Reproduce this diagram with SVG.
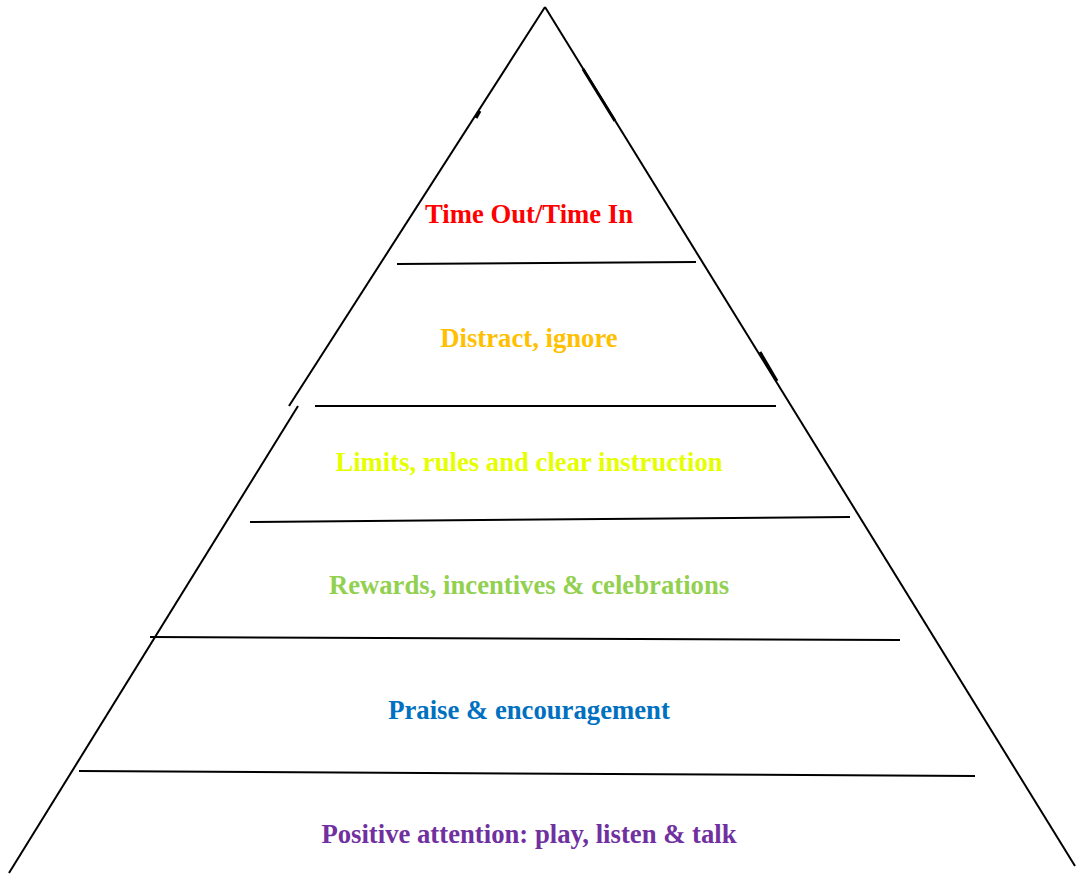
<svg xmlns="http://www.w3.org/2000/svg" width="1076" height="874" viewBox="0 0 1076 874">
<style>
.ln{stroke:#000;stroke-width:2;fill:none;stroke-linecap:butt}
.tk{stroke:#000;stroke-width:3;fill:none}
.lb{font-family:"Liberation Serif","Times New Roman",serif;font-weight:bold;font-size:26.7px;text-anchor:middle}
</style>
<rect width="1076" height="874" fill="#fff"/>
<g id="connectors">
<line class="ln" x1="545" y1="7" x2="289" y2="406"/>
<line class="ln" x1="298" y1="406" x2="9" y2="873"/>
<line class="ln" x1="545" y1="7" x2="1075" y2="866"/>
<line class="tk" x1="476" y1="118" x2="480" y2="111"/>
<line class="tk" x1="583" y1="69" x2="615" y2="121"/>
<line class="tk" x1="760" y1="352" x2="777" y2="381"/>
<line class="ln" x1="397" y1="264" x2="696" y2="262"/>
<line class="ln" x1="315" y1="406" x2="776" y2="406"/>
<line class="ln" x1="250" y1="522" x2="850" y2="517"/>
<line class="ln" x1="150" y1="637" x2="900" y2="640"/>
<line class="ln" x1="79" y1="771" x2="975" y2="776"/>
</g>
<g id="n1"><text class="lb" x="529" y="223" fill="#FF0000">Time Out/Time In</text></g>
<g id="n2"><text class="lb" x="529" y="347" fill="#FFC000">Distract, ignore</text></g>
<g id="n3"><text class="lb" x="529" y="471" fill="#E6FF00">Limits, rules and clear instruction</text></g>
<g id="n4"><text class="lb" x="529" y="594" fill="#92D050">Rewards, incentives &amp; celebrations</text></g>
<g id="n5"><text class="lb" x="529" y="719" fill="#0070C0">Praise &amp; encouragement</text></g>
<g id="n6"><text class="lb" x="529" y="843" fill="#7030A0">Positive attention: play, listen &amp; talk</text></g>
</svg>
